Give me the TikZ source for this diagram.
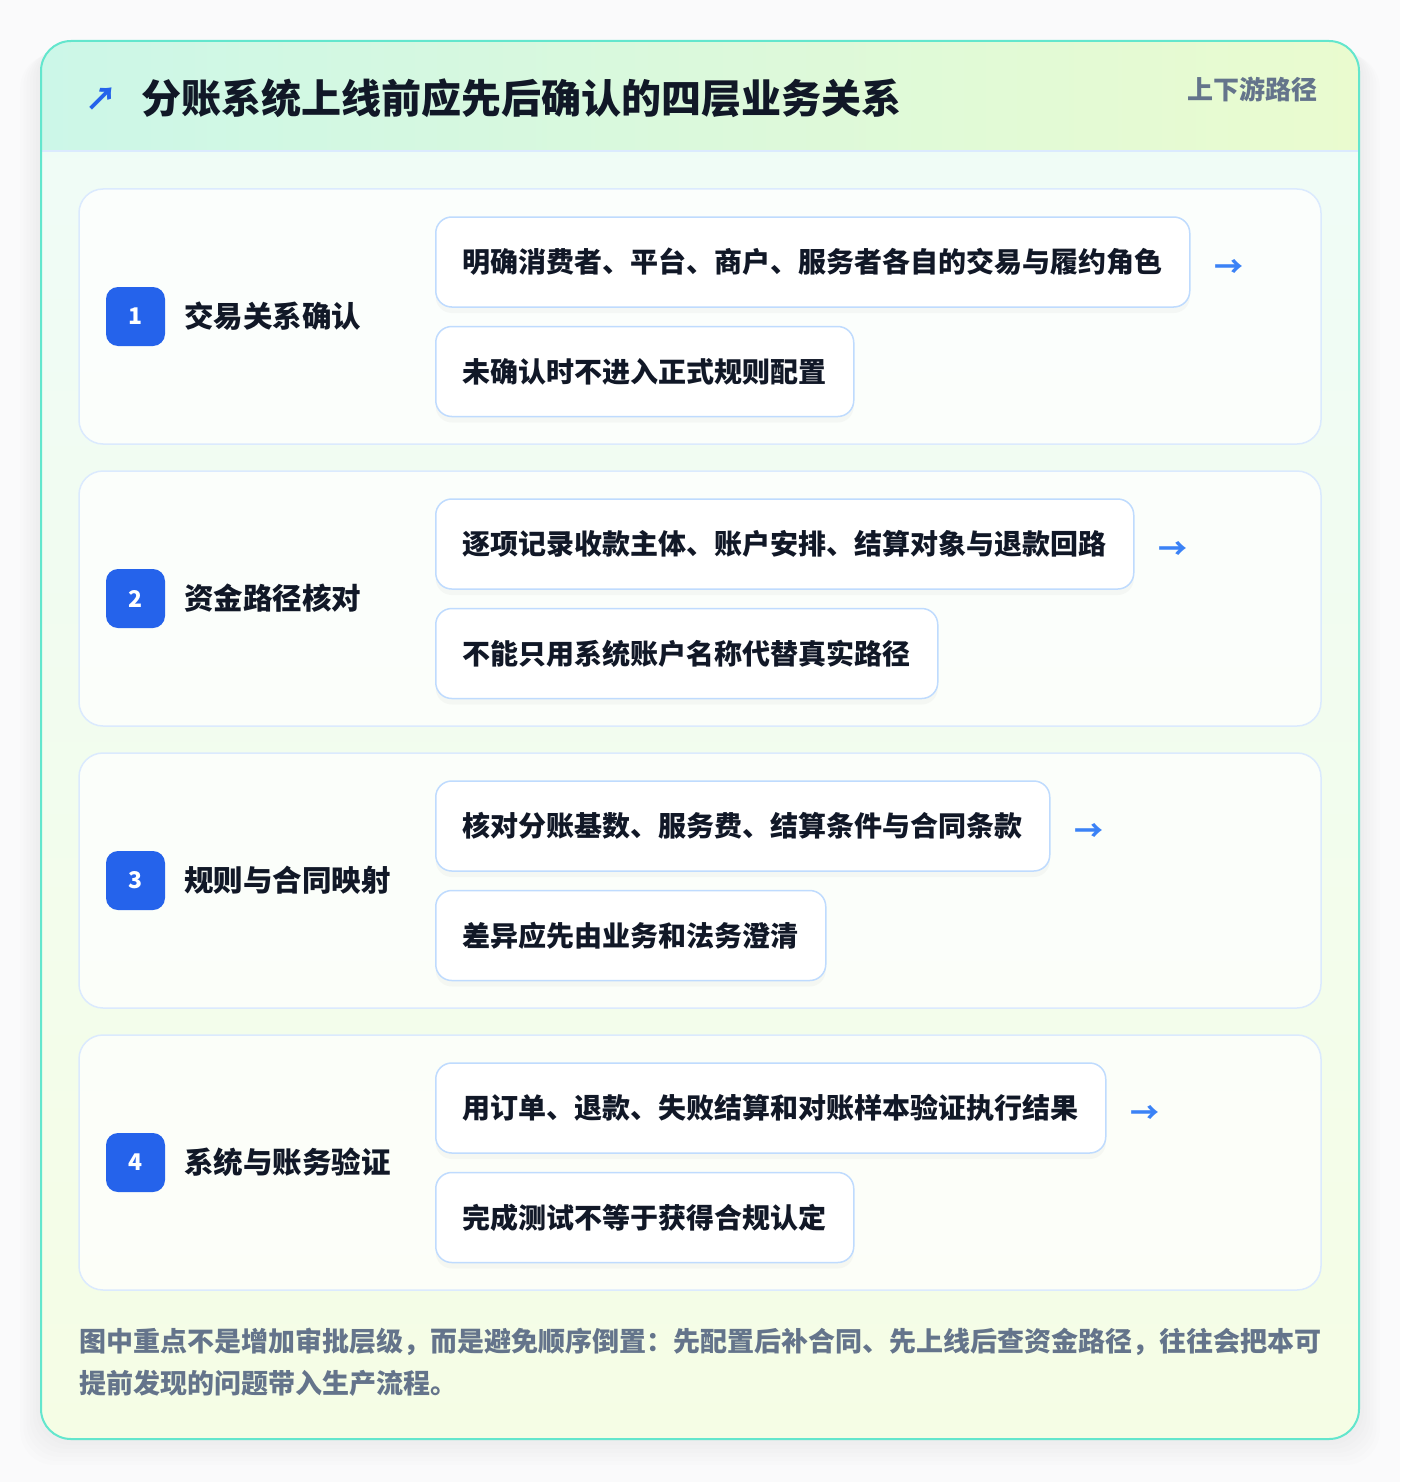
\documentclass[tikz,border=0pt]{standalone}
\usepackage{fontspec}
\setmainfont{Noto Sans CJK SC}
\usetikzlibrary{positioning, shadows}
\definecolor{pagebg}{RGB}{250,250,251}
\definecolor{cardline}{RGB}{99,230,205}
\definecolor{headL}{RGB}{204,247,232}
\definecolor{headR}{RGB}{234,251,207}
\definecolor{bodyT}{RGB}{239,252,248}
\definecolor{bodyB}{RGB}{245,253,229}
\definecolor{headline}{RGB}{219,234,254}
\definecolor{panelline}{RGB}{219,234,254}
\definecolor{itemline}{RGB}{191,219,254}
\definecolor{ink}{RGB}{17,24,39}
\definecolor{muted}{RGB}{100,116,139}
\definecolor{badgeblue}{RGB}{37,99,235}
\definecolor{arrowblue}{RGB}{59,130,246}
\tikzstyle{panel} = [rectangle, rounded corners=24pt, minimum width=1242pt, minimum height=255pt, draw=panelline, line width=1.5pt, fill=white, fill opacity=0.75]
\tikzstyle{badge} = [rectangle, rounded corners=12pt, minimum size=59pt, inner sep=0pt, fill=badgeblue, text=white, font=\fontsize{23}{23}\selectfont\bfseries]
\tikzstyle{stage} = [anchor=west, inner sep=0pt, text=ink, font=\fontsize{29.5}{30}\selectfont\bfseries]
\tikzstyle{item} = [rectangle, rounded corners=16pt, minimum height=90pt, inner xsep=27pt, anchor=west, draw=itemline, line width=1.5pt, fill=white, text=ink, font=\fontsize{28}{28}\selectfont\bfseries, drop shadow={shadow xshift=0pt, shadow yshift=-6pt, opacity=0.05}]
\tikzstyle{nextmark} = [inner sep=0pt, text=arrowblue, font=\fontsize{29}{29}\selectfont\bfseries]

\begin{document}
\begin{tikzpicture}[x=1pt, y=1pt]
	\useasboundingbox (0,0) rectangle (1400,-1482);
	\fill[pagebg] (0,0) rectangle (1400,-1482);
	% soft card shadow
	\foreach \s in {2,6,...,26}
		\fill[black, opacity=0.008, rounded corners=34pt] (41-\s*0.8,-41-\s*0.5) rectangle (1359+\s*0.8,-1439-\s);
	\begin{scope}
		\clip[rounded corners=30pt] (41,-41) rectangle (1359,-1439);
		\fill[top color=bodyT, bottom color=bodyB] (41,-41) rectangle (1359,-1439);
		\fill[left color=headL, right color=headR] (41,-41) rectangle (1359,-151);
	\end{scope}
	\draw[headline, line width=1.5pt] (42,-151) -- (1358,-151);
	\draw[cardline, line width=2pt, rounded corners=30pt] (41,-41) rectangle (1359,-1439);

	% header
	\node (icon) [text=badgeblue, inner sep=0pt, font=\fontsize{32}{32}\selectfont\bfseries] at (101,-99) {↗};
	\node (title) [anchor=west, inner sep=0pt, text=ink, font=\fontsize{40}{40}\selectfont\bfseries] at (141,-98) {分账系统上线前应先后确认的四层业务关系};
	\node (tag) [anchor=east, inner sep=0pt, text=muted, font=\fontsize{26}{26}\selectfont\bfseries] at (1318,-89) {上下游路径};

	% layer 1
	\node (row1) [panel] at (700,-316.5) {};
	\node (num1) [badge] at (135.5,-316.5) {1};
	\node (stage1) [stage, right=19pt of num1] {交易关系确认};
	\node (item1a) [item] at (435,-262) {明确消费者、平台、商户、服务者各自的交易与履约角色};
	\node (item1b) [item, below=18pt of item1a.south west, anchor=north west] {未确认时不进入正式规则配置};
	\node (next1) [nextmark, right=24pt of item1a, yshift=-6pt] {→};

	% layer 2
	\node (row2) [panel] at (700,-598.5) {};
	\node (num2) [badge] at (135.5,-598.5) {2};
	\node (stage2) [stage, right=19pt of num2] {资金路径核对};
	\node (item2a) [item] at (435,-544) {逐项记录收款主体、账户安排、结算对象与退款回路};
	\node (item2b) [item, below=18pt of item2a.south west, anchor=north west] {不能只用系统账户名称代替真实路径};
	\node (next2) [nextmark, right=24pt of item2a, yshift=-6pt] {→};

	% layer 3
	\node (row3) [panel] at (700,-880.5) {};
	\node (num3) [badge] at (135.5,-880.5) {3};
	\node (stage3) [stage, right=19pt of num3] {规则与合同映射};
	\node (item3a) [item] at (435,-826) {核对分账基数、服务费、结算条件与合同条款};
	\node (item3b) [item, below=18pt of item3a.south west, anchor=north west] {差异应先由业务和法务澄清};
	\node (next3) [nextmark, right=24pt of item3a, yshift=-6pt] {→};

	% layer 4
	\node (row4) [panel] at (700,-1162.5) {};
	\node (num4) [badge] at (135.5,-1162.5) {4};
	\node (stage4) [stage, right=19pt of num4] {系统与账务验证};
	\node (item4a) [item] at (435,-1108) {用订单、退款、失败结算和对账样本验证执行结果};
	\node (item4b) [item, below=18pt of item4a.south west, anchor=north west] {完成测试不等于获得合规认定};
	\node (next4) [nextmark, right=24pt of item4a, yshift=-6pt] {→};

	% footer note
	\node (note) [anchor=north west, inner sep=0pt, align=left, text=muted, font=\fontsize{27}{42}\selectfont\bfseries] at (79,-1328) {图中重点不是增加审批层级，而是避免顺序倒置：先配置后补合同、先上线后查资金路径，往往会把本可\\提前发现的问题带入生产流程。};
\end{tikzpicture}
\end{document}
